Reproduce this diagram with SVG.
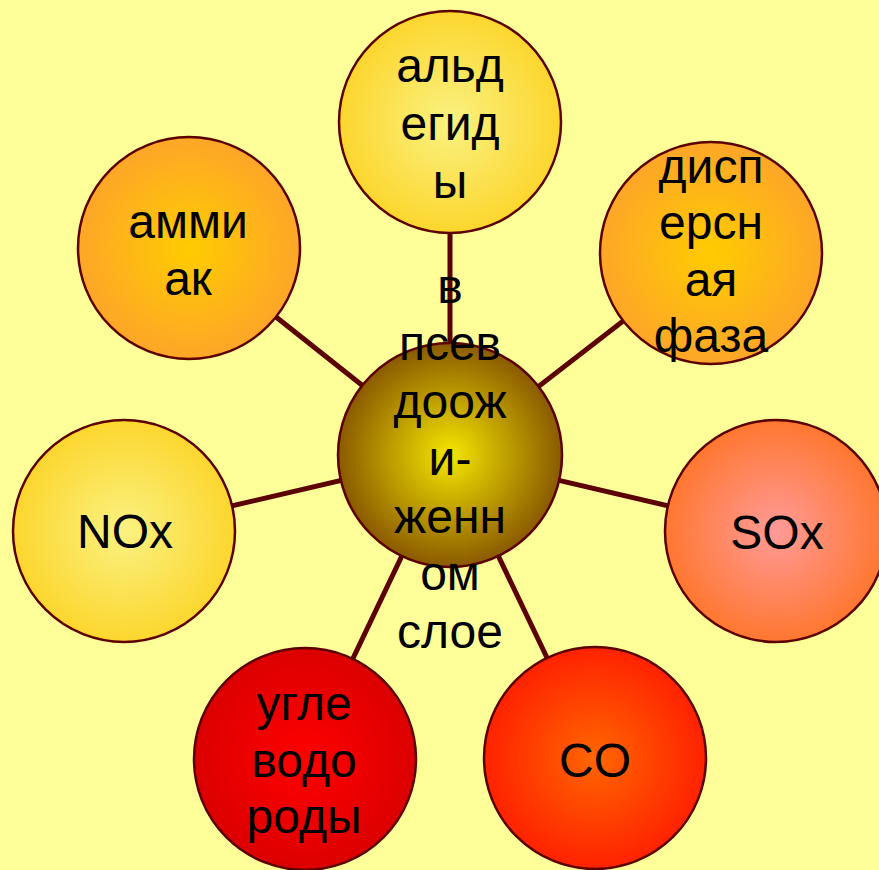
<svg xmlns="http://www.w3.org/2000/svg" width="879" height="870" viewBox="0 0 879 870">
<defs>
<radialGradient id="gYellow" cx="50%" cy="50%" r="50%"><stop offset="0" stop-color="#FAF282"/><stop offset="1" stop-color="#FCD62E"/></radialGradient>
<radialGradient id="gOrange" cx="50%" cy="50%" r="50%"><stop offset="0" stop-color="#FFCC00"/><stop offset="1" stop-color="#FDA628"/></radialGradient>
<radialGradient id="gPink" cx="50%" cy="50%" r="50%"><stop offset="0" stop-color="#FF9A98"/><stop offset="1" stop-color="#FF7730"/></radialGradient>
<radialGradient id="gRedOrange" cx="50%" cy="50%" r="50%"><stop offset="0" stop-color="#FF6600"/><stop offset="1" stop-color="#FF2200"/></radialGradient>
<radialGradient id="gRed" cx="50%" cy="50%" r="50%"><stop offset="0" stop-color="#FF0000"/><stop offset="1" stop-color="#DC0000"/></radialGradient>
<radialGradient id="gCenter" cx="50%" cy="50%" r="50%"><stop offset="0" stop-color="#F5E600"/><stop offset="1" stop-color="#8A5A00"/></radialGradient>
</defs>
<style>
.node{stroke:#5C0000;stroke-width:2.5}
.lbl{font-family:"Liberation Sans",Arial,sans-serif;font-size:48px;fill:#000;text-anchor:middle}
.conn line{stroke:#5C0000;stroke-width:5}
</style>
<rect width="879" height="870" fill="#FFFF99"/>
<g id="connectors" class="conn">
<line x1="450" y1="455" x2="450" y2="122"/>
<line x1="450" y1="455" x2="711" y2="253"/>
<line x1="450" y1="455" x2="776" y2="531"/>
<line x1="450" y1="455" x2="595" y2="758"/>
<line x1="450" y1="455" x2="305" y2="759"/>
<line x1="450" y1="455" x2="124" y2="531"/>
<line x1="450" y1="455" x2="189" y2="248"/>
</g>
<g id="aldehydes">
<circle class="node" cx="450" cy="122" r="111" fill="url(#gYellow)"/>
<text class="lbl" x="450" y="82">альд</text>
<text class="lbl" x="450" y="140">егид</text>
<text class="lbl" x="450" y="198">ы</text>
</g>
<g id="dispersed">
<circle class="node" cx="711" cy="253" r="111" fill="url(#gOrange)"/>
<text class="lbl" x="711" y="183">дисп</text>
<text class="lbl" x="711" y="239">ерсн</text>
<text class="lbl" x="711" y="296">ая</text>
<text class="lbl" x="711" y="352">фаза</text>
</g>
<g id="sox">
<circle class="node" cx="776" cy="531" r="111" fill="url(#gPink)"/>
<text class="lbl" x="777" y="549">SOx</text>
</g>
<g id="co">
<circle class="node" cx="595" cy="758" r="111" fill="url(#gRedOrange)"/>
<text class="lbl" x="595" y="777">CO</text>
</g>
<g id="hydrocarbons">
<circle class="node" cx="305" cy="759" r="111" fill="url(#gRed)"/>
<text class="lbl" x="304" y="720">угле</text>
<text class="lbl" x="304" y="777">водо</text>
<text class="lbl" x="304" y="833">роды</text>
</g>
<g id="nox">
<circle class="node" cx="124" cy="531" r="111" fill="url(#gYellow)"/>
<text class="lbl" x="125" y="548">NOx</text>
</g>
<g id="ammonia">
<circle class="node" cx="189" cy="248" r="111" fill="url(#gOrange)"/>
<text class="lbl" x="188" y="238">амми</text>
<text class="lbl" x="188" y="295">ак</text>
</g>
<g id="center">
<circle class="node" cx="450" cy="455" r="112" fill="url(#gCenter)"/>
<text class="lbl" x="450" y="303">в</text>
<text class="lbl" x="450" y="360">псев</text>
<text class="lbl" x="450" y="418">доож</text>
<text class="lbl" x="450" y="475">и-</text>
<text class="lbl" x="450" y="533">женн</text>
<text class="lbl" x="450" y="590">ом</text>
<text class="lbl" x="450" y="648">слое</text>
</g>
</svg>
